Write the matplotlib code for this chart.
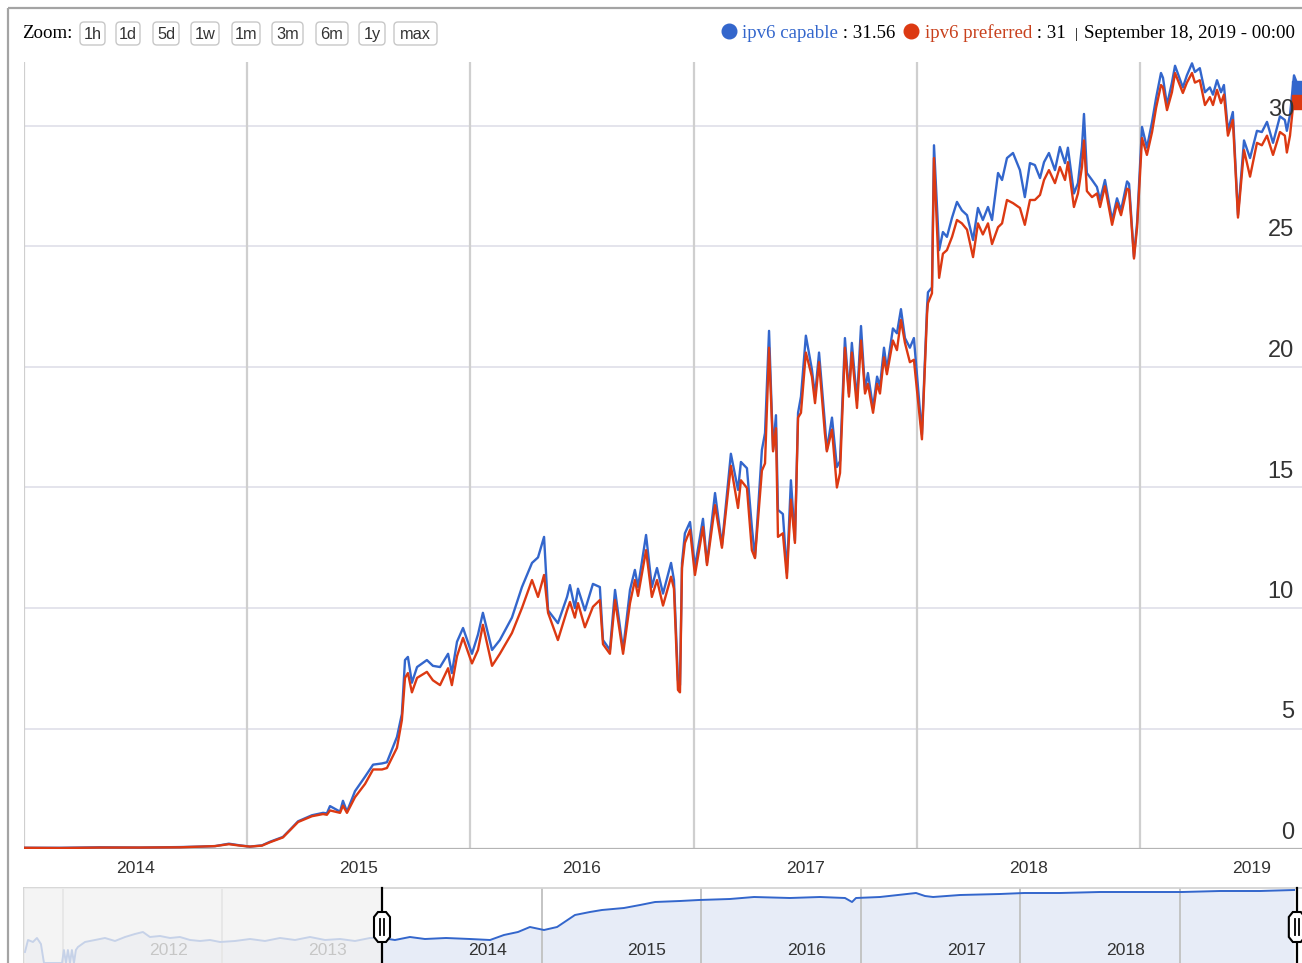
import matplotlib
matplotlib.use('Agg')
import matplotlib.pyplot as plt
from matplotlib.patches import FancyBboxPatch, Polygon

# ---------------- data ----------------
years = [
    2014.000, 2014.161, 2014.340, 2014.520, 2014.699, 2014.788, 2014.856, 2014.918, 2014.968, 2015.012,
    2015.066, 2015.102, 2015.160, 2015.192, 2015.228, 2015.290, 2015.340, 2015.357, 2015.371, 2015.416,
    2015.429, 2015.447, 2015.483, 2015.528, 2015.564, 2015.604, 2015.626, 2015.671, 2015.693, 2015.707,
    2015.720, 2015.738, 2015.761, 2015.805, 2015.832, 2015.864, 2015.900, 2015.917, 2015.940, 2015.967,
    2016.007, 2016.034, 2016.056, 2016.097, 2016.132, 2016.186, 2016.231, 2016.276, 2016.303, 2016.330,
    2016.348, 2016.392, 2016.433, 2016.446, 2016.468, 2016.482, 2016.513, 2016.549, 2016.580, 2016.594,
    2016.625, 2016.648, 2016.684, 2016.715, 2016.737, 2016.751, 2016.787, 2016.813, 2016.836, 2016.863,
    2016.899, 2016.912, 2016.930, 2016.939, 2016.948, 2016.961, 2016.984, 2017.006, 2017.042, 2017.060,
    2017.096, 2017.127, 2017.167, 2017.199, 2017.212, 2017.239, 2017.261, 2017.275, 2017.306, 2017.320,
    2017.338, 2017.356, 2017.369, 2017.378, 2017.400, 2017.418, 2017.436, 2017.454, 2017.468, 2017.481,
    2017.503, 2017.530, 2017.544, 2017.562, 2017.588, 2017.597, 2017.620, 2017.642, 2017.656, 2017.678,
    2017.696, 2017.709, 2017.732, 2017.750, 2017.768, 2017.781, 2017.804, 2017.822, 2017.835, 2017.853,
    2017.866, 2017.893, 2017.911, 2017.929, 2017.947, 2017.969, 2017.987, 2018.023, 2018.046, 2018.050,
    2018.068, 2018.077, 2018.100, 2018.117, 2018.135, 2018.158, 2018.180, 2018.202, 2018.225, 2018.252,
    2018.274, 2018.296, 2018.319, 2018.337, 2018.364, 2018.382, 2018.404, 2018.431, 2018.462, 2018.484,
    2018.507, 2018.529, 2018.552, 2018.570, 2018.592, 2018.619, 2018.641, 2018.664, 2018.677, 2018.704,
    2018.722, 2018.740, 2018.749, 2018.762, 2018.785, 2018.807, 2018.821, 2018.843, 2018.875, 2018.897,
    2018.915, 2018.942, 2018.951, 2018.973, 2018.987, 2019.009, 2019.031, 2019.054, 2019.072, 2019.094,
    2019.103, 2019.121, 2019.143, 2019.157, 2019.192, 2019.210, 2019.233, 2019.246, 2019.268, 2019.291,
    2019.313, 2019.327, 2019.345, 2019.363, 2019.376, 2019.394, 2019.416, 2019.439, 2019.466, 2019.493,
    2019.524, 2019.546, 2019.569, 2019.596, 2019.627, 2019.649, 2019.658, 2019.672, 2019.690, 2019.712,
]
ipv6_capable = [
    0.05, 0.05, 0.07, 0.06, 0.08, 0.10, 0.12, 0.22, 0.15, 0.10,
    0.15, 0.30, 0.50, 0.80, 1.15, 1.40, 1.50, 1.48, 1.78, 1.55,
    2.00, 1.55, 2.40, 3.00, 3.50, 3.55, 3.60, 4.65, 5.60, 7.84,
    7.97, 6.90, 7.55, 7.84, 7.60, 7.55, 8.10, 7.30, 8.60, 9.17,
    8.10, 8.90, 9.80, 8.26, 8.67, 9.60, 10.87, 11.87, 12.10, 12.95,
    9.90, 9.37, 10.46, 10.95, 10.00, 10.80, 9.90, 11.00, 10.87, 8.67,
    8.26, 10.75, 8.26, 10.75, 11.58, 10.87, 13.03, 10.87, 11.66, 10.60,
    11.87, 11.16, 7.00, 6.80, 11.87, 13.10, 13.57, 11.70, 13.70, 11.87,
    14.77, 12.60, 16.40, 14.90, 16.06, 15.80, 13.36, 12.10, 16.56, 17.26,
    21.50, 16.56, 18.00, 14.07, 13.90, 11.45, 15.30, 12.80, 18.10, 18.77,
    21.30, 19.90, 18.80, 20.60, 17.70, 16.56, 17.90, 15.85, 16.10, 21.20,
    18.90, 21.00, 18.60, 21.70, 19.05, 19.75, 18.30, 19.60, 19.20, 20.80,
    19.90, 21.60, 21.40, 22.40, 21.20, 20.80, 21.20, 17.20, 22.50, 23.10,
    23.30, 29.20, 24.85, 25.60, 25.40, 26.20, 26.85, 26.50, 26.30, 25.27,
    26.60, 26.10, 26.64, 26.10, 28.05, 27.76, 28.67, 28.88, 28.17, 27.05,
    28.46, 28.38, 27.84, 28.50, 28.88, 28.17, 29.13, 28.46, 29.10, 27.20,
    27.63, 29.13, 30.50, 28.05, 27.76, 27.47, 26.93, 27.76, 26.10, 27.00,
    26.50, 27.70, 27.60, 24.56, 26.00, 29.96, 29.10, 30.17, 31.16, 32.20,
    32.00, 30.87, 31.80, 32.50, 31.60, 32.10, 32.60, 32.24, 32.40, 31.40,
    31.60, 31.30, 31.90, 31.40, 31.70, 29.80, 30.58, 26.30, 29.40, 28.67,
    29.80, 29.75, 30.17, 29.30, 30.40, 30.25, 29.80, 30.46, 32.10, 31.56,
]
ipv6_preferred = [
    0.05, 0.04, 0.06, 0.06, 0.07, 0.10, 0.12, 0.20, 0.14, 0.10,
    0.14, 0.28, 0.48, 0.78, 1.12, 1.36, 1.45, 1.42, 1.60, 1.50,
    1.80, 1.50, 2.15, 2.70, 3.30, 3.30, 3.36, 4.20, 5.35, 7.10,
    7.30, 6.50, 7.10, 7.35, 7.00, 6.80, 7.50, 6.80, 8.00, 8.76,
    7.70, 8.26, 9.30, 7.60, 8.10, 8.96, 10.00, 11.16, 10.46, 11.37,
    9.80, 8.67, 9.90, 10.25, 9.60, 10.20, 9.20, 10.05, 10.33, 8.50,
    8.10, 10.33, 8.10, 10.20, 11.16, 10.50, 12.40, 10.46, 11.16, 10.10,
    11.30, 10.80, 6.60, 6.50, 11.66, 12.70, 13.24, 11.37, 13.36, 11.78,
    14.27, 12.50, 15.90, 14.15, 15.30, 14.98, 12.40, 12.07, 15.70, 16.00,
    20.80, 16.50, 17.46, 12.95, 13.10, 11.24, 14.50, 12.70, 17.90, 18.10,
    20.60, 19.60, 18.50, 20.20, 17.26, 16.50, 17.40, 15.00, 15.60, 20.80,
    18.77, 20.60, 18.30, 21.10, 18.90, 19.30, 18.10, 19.30, 18.90, 20.40,
    19.70, 21.10, 20.70, 21.95, 21.00, 20.20, 20.30, 17.00, 22.20, 22.65,
    23.06, 28.67, 23.70, 24.70, 24.85, 25.40, 26.10, 25.96, 25.70, 24.56,
    25.96, 25.50, 25.96, 25.10, 25.80, 25.96, 26.93, 26.80, 26.60, 25.90,
    26.93, 26.93, 27.14, 27.76, 28.17, 27.63, 28.30, 27.76, 28.50, 26.64,
    27.20, 28.30, 29.40, 27.30, 27.05, 27.20, 26.64, 27.50, 25.90, 26.80,
    26.30, 27.40, 27.35, 24.50, 25.80, 29.50, 28.80, 29.75, 30.75, 31.70,
    31.60, 30.66, 31.40, 32.20, 31.37, 31.80, 32.20, 31.80, 31.90, 30.87,
    31.20, 30.87, 31.50, 30.95, 31.30, 29.60, 30.25, 26.20, 29.00, 27.90,
    29.30, 29.20, 29.60, 28.80, 29.75, 29.60, 28.90, 29.60, 31.20, 31.00,
]

# overview (navigator) series: years and relative heights read from the strip
nav_years = [
    2011.763, 2011.782, 2011.813, 2011.838, 2011.863, 2011.882, 2011.995, 2012.007, 2012.020, 2012.032,
    2012.045, 2012.057, 2012.070, 2012.082, 2012.095, 2012.139, 2012.202, 2012.264, 2012.327, 2012.390,
    2012.452, 2012.502, 2012.546, 2012.609, 2012.672, 2012.734, 2012.797, 2012.860, 2012.922, 2012.985,
    2013.079, 2013.173, 2013.267, 2013.361, 2013.455, 2013.549, 2013.643, 2013.737, 2013.831, 2013.925,
    2014.000, 2014.081, 2014.175, 2014.269, 2014.401, 2014.551, 2014.677, 2014.764, 2014.852, 2014.927,
    2015.015, 2015.097, 2015.209, 2015.303, 2015.378, 2015.516, 2015.617, 2015.711, 2015.867, 2015.986,
    2016.180, 2016.331, 2016.556, 2016.744, 2016.901, 2016.945, 2016.970, 2017.120, 2017.346, 2017.402,
    2017.453, 2017.622, 2017.872, 2018.023, 2018.248, 2018.499, 2018.749, 2019.013, 2019.251, 2019.502,
    2019.715,
]
nav_values = [
    23, 35, 33, 37, 31, 12, 12, 25, 12, 25,
    12, 25, 12, 25, 28, 33, 35, 37, 34, 38,
    41, 43, 38, 39, 37, 38, 35, 34, 35, 33,
    34, 36, 34, 37, 35, 38, 35, 36, 34, 37,
    37, 35, 38, 36, 37, 36, 35, 40, 43, 48,
    45, 48, 60, 63, 65, 67, 70, 73, 74, 75,
    76, 78, 77, 78, 77, 73, 77, 78, 82, 79,
    78, 80, 81, 82, 82, 83, 83, 83, 84, 84,
    85,
]

y_ticks = [0, 5, 10, 15, 20, 25, 30]
year_lines = [2014, 2015, 2016, 2017, 2018, 2019]
year_labels = ['2014', '2015', '2016', '2017', '2018', '2019']
nav_year_lines = [2012, 2013, 2014, 2015, 2016, 2017, 2018, 2019]
nav_year_labels = ['2012', '2013', '2014', '2015', '2016', '2017', '2018']
zoom_buttons = ['1h', '1d', '5d', '1w', '1m', '3m', '6m', '1y', 'max']
series_names = ['ipv6 capable', 'ipv6 preferred']
date_label = 'September 18, 2019 - 00:00'
view_start = 2014.0

# ---------------- style ----------------
W, H = 1302, 963
SANS = ['Liberation Sans', 'DejaVu Sans']
SERIF = ['Liberation Serif', 'DejaVu Serif']
BLUE = '#3366cc'
RED = '#dc3912'
TXT = '#333333'

fig = plt.figure(figsize=(W / 100, H / 100), dpi=100)
fig.patch.set_facecolor('white')

# ---------------- main chart ----------------
PX_YEAR = 223.2
PX_UNIT = 24.1
ax = fig.add_axes([24 / W, (H - 849) / H, (W - 24) / W, (849 - 62) / H])
ax.set_xlim(view_start, view_start + (W - 24) / PX_YEAR)
ax.set_ylim(0, (849 - 62) / PX_UNIT)
for s in ax.spines.values():
    s.set_visible(False)
ax.set_xticks([])
ax.set_yticks([])

for v in y_ticks[1:]:
    ax.axhline(v, color='#e2e2ea', lw=1.3, zorder=1)
for yr in year_lines:
    ax.axvline(yr, color='#cfcfcf', lw=1.6, zorder=1)
ax.axhline(0, color='#b4b4b4', lw=1.6, zorder=2)

for v in y_ticks:
    ax.annotate(str(v), xy=(0.9937, v), xycoords=('axes fraction', 'data'),
                xytext=(0, 10), textcoords='offset pixels', ha='right', va='baseline',
                fontsize=17, family=SANS, color=TXT, zorder=6)
for yr, lab in zip(year_lines, year_labels):
    ax.annotate(lab, xy=(yr + 0.5, 0), xycoords=('data', 'axes fraction'),
                xytext=(0, -19), textcoords='offset pixels', ha='center', va='center',
                fontsize=12.6, family=SANS, color=TXT, annotation_clip=False)

ax.plot(years, ipv6_capable, color=BLUE, lw=1.7, zorder=3, solid_joinstyle='round')
ax.plot(years, ipv6_preferred, color=RED, lw=1.7, zorder=4, solid_joinstyle='round')
ax.plot([years[-1]], [ipv6_capable[-1]], 's', ms=10, color=BLUE, clip_on=False, zorder=5)
ax.plot([years[-1]], [ipv6_preferred[-1]], 's', ms=10, color=RED, clip_on=False, zorder=5)

# ---------------- navigator ----------------
PX_NAV = 159.6
nav = fig.add_axes([24 / W, (H - 975) / H, (W - 24) / W, (975 - 888) / H])
nav_x0 = view_start - (382 - 24) / PX_NAV
nav.set_xlim(nav_x0, view_start + (W - 382) / PX_NAV)
nav.set_ylim(0, 87)
nav.set_xticks([])
nav.set_yticks([])
for k, s in nav.spines.items():
    s.set_visible(k in ('top', 'left'))
    s.set_color('#d4d4d4')
    s.set_linewidth(1.3)
nav.fill_between(nav_years, nav_values, 0, color='#e7ecf7', zorder=1, lw=0)
for yr in nav_year_lines:
    nav.axvline(yr, color='#c4c4c4', lw=1.4, zorder=2)
nav.plot(nav_years, nav_values, color=BLUE, lw=1.4, zorder=3)
for yr, lab in zip(nav_year_lines, nav_year_labels):
    nav.text(yr + 0.66, 25, lab, ha='center', va='center', fontsize=12.6,
             family=SANS, color=TXT, zorder=4)
nav.axvspan(nav_x0, view_start, color='#f1f1f1', alpha=0.78, zorder=5, lw=0)

# ---------------- decorations (pixel overlay) ----------------
ov = fig.add_axes([0, 0, 1, 1], zorder=10)
ov.set_xlim(0, W)
ov.set_ylim(H, 0)
ov.axis('off')
ov.patch.set_alpha(0)

ov.plot([8, 8], [8, H], color='#a4a4a4', lw=1.6, solid_capstyle='butt')
ov.plot([8, W], [8, 8], color='#a4a4a4', lw=1.6, solid_capstyle='butt')

# zoom bar
ov.text(22, 38, 'Zoom:', family=SERIF, fontsize=13.6, color='black', ha='left', va='baseline')
button_spans = [(80, 105), (116, 140), (153, 179), (191, 219), (232, 260),
                (272, 303), (316, 348), (359, 385), (394, 437)]
for lab, (bx0, bx1) in zip(zoom_buttons, button_spans):
    ov.add_patch(FancyBboxPatch((bx0, 22), bx1 - bx0, 23,
                                boxstyle='round,pad=0,rounding_size=4',
                                fc='white', ec='#c8c8c8', lw=1.0))
    ov.text((bx0 + bx1) / 2, 39, lab, family=SANS, fontsize=11.8, color=TXT,
            ha='center', va='baseline')

# legend line
renderer = fig.canvas.get_renderer()


def put(x, s, color, size=13.6):
    t = ov.text(x, 38, s, color=color, fontsize=size, family=SERIF, ha='left', va='baseline')
    return x + t.get_window_extent(renderer).width


ov.plot([729], [31.5], 'o', ms=10.5, color=BLUE)
x = put(742, series_names[0], BLUE)
x = put(x, ' : %g' % ipv6_capable[-1], 'black')
ov.plot([x + 16], [31.5], 'o', ms=10.5, color=RED)
x = put(x + 30, series_names[1], '#c8401c')
x = put(x, ' : %g' % ipv6_preferred[-1], 'black')
x = put(x + 9, '|', 'black', size=11)
put(x + 6, date_label, 'black')

# navigator handles
for hy in (view_start, years[-1] + 0.02):
    hx = nav.transData.transform((hy, 0))[0]
    ov.plot([hx, hx], [888, H], color='black', lw=1.6, zorder=5)
    ov.add_patch(Polygon([(hx - 8, 917), (hx - 4, 912), (hx + 4, 912), (hx + 8, 917),
                          (hx + 8, 937), (hx + 4, 942), (hx - 4, 942), (hx - 8, 937)],
                         closed=True, fc='white', ec='black', lw=1.5, zorder=6))
    for dx in (-2, 2):
        ov.plot([hx + dx, hx + dx], [919, 935], color='black', lw=1.3, zorder=7)

fig.savefig('out.png', dpi=100, facecolor='white')
